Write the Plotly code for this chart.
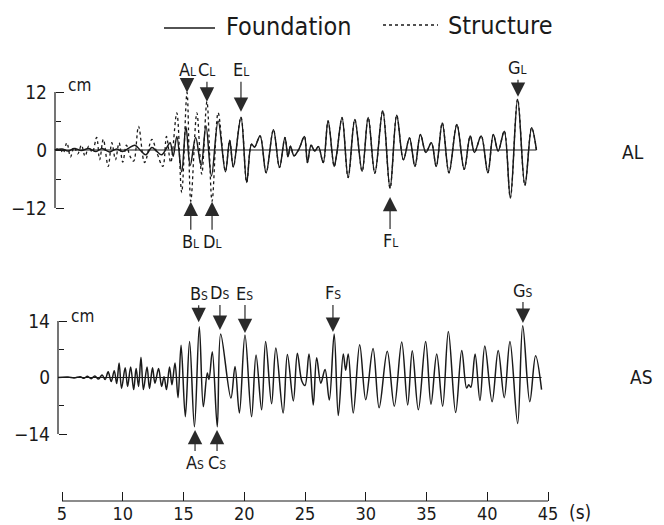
import plotly.graph_objects as go

# ---------------- data ----------------
# Panel AL: foundation record (extrema), seconds / cm
al_found_t = [4.42, 5.0, 5.5, 6.0, 6.6, 7.2, 7.8, 8.3, 8.9, 9.5, 10.0, 10.5, 11.0, 11.5, 11.9,
              12.4, 12.8, 13.2, 13.6, 13.9, 14.15, 14.45, 14.85, 15.2, 15.55, 16.0, 16.45, 16.85,
              17.3, 17.85, 18.45, 18.8, 19.1, 19.73, 20.2, 20.6, 20.85, 21.3, 21.8, 22.4, 22.9,
              23.35, 23.6, 23.8, 24.1, 24.5, 24.95, 25.2, 25.5, 25.8, 26.1, 26.5, 26.9, 27.4,
              27.6, 28.05, 28.55, 29.1, 29.7, 30.2, 30.75, 31.4, 32.0, 32.55, 33.1, 33.6, 34.05,
              34.5, 34.95, 35.4, 35.8, 36.3, 36.85, 37.5, 38.1, 38.6, 38.95, 39.5, 40.05, 40.5,
              40.9, 41.4, 41.9, 42.5, 43.1, 43.65, 44.05]
al_found_v = [0.0, 0.2, -0.2, 0.3, -0.1, 0.3, -0.3, 0.3, -0.4, 0.2, -0.3, 0.4, 1.0, -0.2, -1.0,
              0.5, -0.3, -1.0, 0.4, 1.5, -1.3, 2.8, -4.5, 4.8, -3.2, 2.6, -3.2, 5.0,
              -5.4, 6.0, -4.5, 2.0, -3.5, 6.8, -6.7, 1.2, 0.6, 2.9, -4.7, 4.2, -3.6,
              2.6, -1.4, 0.8, -1.2, 0.2, 2.8, -2.6, 1.0, -0.2, 0.7, -2.6, 6.0, -3.4,
              -1.0, 6.7, -5.7, 6.3, -4.4, 6.7, -4.8, 8.1, -7.9, 7.2, -2.0, 2.5, -3.4,
              3.2, -0.5, 1.5, -3.4, 5.6, -4.7, 5.3, -4.0, 2.9, -0.5, 2.9, -4.7, 3.2,
              -0.2, 3.9, -9.9, 10.5, -7.3, 4.6, 0.0]

# Panel AL: structure record, early part (later part coincides with the foundation)
al_struct_t = [4.42, 4.8, 5.1, 5.4, 5.7, 6.0, 6.3, 6.6, 6.9, 7.2, 7.5, 7.85, 8.1, 8.4, 8.8,
               9.1, 9.4, 9.7, 10.0, 10.3, 10.6, 10.9, 11.3, 11.8, 12.4, 12.8, 13.3, 13.6,
               13.95, 14.45, 14.85, 15.29, 15.6, 16.1, 16.5, 16.93, 17.35, 17.85, 18.45]
al_struct_v = [0.0, 0.3, -0.6, 1.5, -1.4, 0.6, -0.8, 1.0, -1.3, 0.8, -0.5, 2.6, -2.0, 2.2, -3.4,
               1.5, -2.0, 1.5, -2.5, 1.0, -1.3, -2.3, 4.9, -2.6, 2.2, -0.5, -3.4, 2.8,
               -2.6, 7.7, -8.8, 11.9, -10.6, 7.7, -5.0, 10.0, -10.6, 7.7, -4.4]

# Panel AS: record (extrema), seconds / cm
as_t = [4.67, 5.5, 6.0, 6.5, 6.8, 7.1, 7.4, 7.7, 8.0, 8.3, 8.55, 8.8, 9.05, 9.3, 9.5, 9.7, 9.9,
        10.2, 10.4, 10.65, 10.9, 11.1, 11.3, 11.5, 11.7, 12.0, 12.2, 12.45, 12.65, 12.95, 13.2,
        13.4, 13.6, 13.85, 14.05, 14.3, 14.55, 14.8, 15.15, 15.5, 15.9, 16.3, 16.63, 16.96,
        17.1, 17.37, 17.78, 18.06, 18.9, 19.24, 19.6, 20.06, 20.6, 20.97, 21.43, 21.76, 22.25,
        22.6, 23.2, 23.55, 24.04, 24.37, 24.73, 25.0, 25.33, 25.68, 25.96, 26.3, 26.65, 27.0,
        27.4, 27.74, 28.15, 28.35, 28.56, 28.97, 29.5, 30.0, 30.6, 31.1, 31.77, 32.35, 32.96,
        33.45, 33.83, 34.33, 34.93, 35.37, 35.84, 36.33, 36.8, 37.4, 37.9, 38.3, 38.48, 38.65,
        39.0, 39.4, 39.8, 40.4, 40.9, 41.4, 41.87, 42.5, 42.92, 43.5, 43.98, 44.47]
as_v = [0.0, 0.1, -0.1, 0.2, -0.2, 0.3, -0.3, 0.4, -0.4, 0.6, -0.5, 1.4, -1.0, 1.7, -1.5, 3.6, -2.7,
        2.4, -2.2, 2.6, -3.0, 2.2, -2.2, 5.0, -3.0, 2.6, -2.7, 2.4, -1.4, 2.2, -2.2,
        0.2, -3.0, 2.6, -1.8, 3.6, -5.0, 8.0, -9.7, 8.9, -12.2, 12.6, -7.2, 1.1,
        -0.5, 6.4, -12.2, 10.8, -5.1, 2.7, -8.8, 10.5, -9.7, 5.6, -8.0, 8.9, -6.5,
        7.3, -8.8, 5.7, -5.8, 6.0, -0.8, -2.0, 5.8, -6.8, 4.9, -1.4, 2.0, -5.6,
        10.8, -9.4, 5.8, 1.8, 5.8, -8.8, 8.1, -5.5, 7.2, -7.5, 6.5, -7.1, 8.8,
        -6.8, 6.6, -8.0, 8.9, -6.6, 5.8, -7.1, 11.4, -8.7, 6.7, -2.6, -1.8, -2.4,
        5.8, -5.7, 7.8, -6.0, 6.7, -5.0, 8.9, -11.4, 12.8, -6.0, 5.4, -3.0]

x_ticks = [5, 10, 15, 20, 25, 30, 35, 40, 45]
x_tick_labels = ["5", "10", "15", "20", "25", "30", "35", "40", "45"]
al_ticks = [-12, 0, 12]
al_tick_labels = ["\u221212", "0", "12"]
al_minor = [-6, 6]
as_ticks = [-14, 0, 14]
as_tick_labels = ["\u221214", "0", "14"]
as_minor = [-7, 7]

# marked peaks: letter, subscript, time, value, label offset (px, + = below)
al_marks = [("A", "L", 15.29, 11.9, -23), ("C", "L", 16.93, 10.0, -32), ("E", "L", 19.73, 7.9, -42),
            ("G", "L", 42.53, 11.0, -29), ("B", "L", 15.6, -10.7, 40), ("D", "L", 17.35, -10.7, 40),
            ("F", "L", 32.0, -9.7, 44)]
as_marks = [("B", "S", 16.25, 13.7, -29), ("D", "S", 18.0, 11.8, -37), ("E", "S", 20.06, 11.0, -40),
            ("F", "S", 27.3, 11.3, -39), ("G", "S", 42.94, 13.5, -33), ("A", "S", 15.95, -13.0, 33),
            ("C", "S", 17.76, -13.0, 33)]

# ---------------- layout geometry ----------------
W, H = 664, 525
FONT = "Liberation Sans Narrow, DejaVu Sans Condensed, Arial Narrow, Liberation Sans, sans-serif"
INK = "#1a1a1a"

px5, px45 = 62.0, 548.0
pps = (px45 - px5) / 40.0
x_range = [5 - px5 / pps, 5 + (W - px5) / pps]
def t_at(px):
    return 5 + (px - px5) / pps

# AL panel: 0 at y=150, 12 at y=92
al_zero, al_scale = 150.0, (208.0 - 92.0) / 24.0
al_range = [(al_zero - H) / al_scale, al_zero / al_scale]
# AS panel: 0 at y=377.5, 14 at y=321
as_zero, as_scale = 377.5, (434.0 - 321.0) / 28.0
as_range = [(as_zero - H) / as_scale, as_zero / as_scale]

al_axis_px, as_axis_px = 55.0, 58.0
x_axis_py = 501.0

struct_t = al_struct_t + [t for t in al_found_t if t > al_struct_t[-1]]
struct_v = al_struct_v + [v for t, v in zip(al_found_t, al_found_v) if t > al_struct_t[-1]]

fig = go.Figure()
fig.add_trace(go.Scatter(x=struct_t, y=struct_v, mode="lines", yaxis="y",
                         line=dict(color=INK, width=1.3, dash="dot", shape="spline", smoothing=1.0),
                         showlegend=False, hoverinfo="skip"))
fig.add_trace(go.Scatter(x=al_found_t, y=al_found_v, mode="lines", yaxis="y",
                         line=dict(color=INK, width=1.5, shape="spline", smoothing=1.0),
                         showlegend=False, hoverinfo="skip"))
fig.add_trace(go.Scatter(x=as_t, y=as_v, mode="lines", yaxis="y2",
                         line=dict(color=INK, width=1.5, shape="spline", smoothing=1.0),
                         showlegend=False, hoverinfo="skip"))

shapes = []
# axis spines (bracket style) and zero lines
shapes.append(dict(type="line", xref="paper", yref="y", x0=al_axis_px / W, x1=al_axis_px / W,
                   y0=al_ticks[0], y1=al_ticks[-1], line=dict(color=INK, width=1.2)))
shapes.append(dict(type="line", xref="paper", yref="y2", x0=as_axis_px / W, x1=as_axis_px / W,
                   y0=as_ticks[0], y1=as_ticks[-1], line=dict(color=INK, width=1.2)))
shapes.append(dict(type="line", xref="x", yref="y", x0=t_at(al_axis_px), x1=al_found_t[-1],
                   y0=0, y1=0, line=dict(color=INK, width=1.1)))
shapes.append(dict(type="line", xref="x", yref="y2", x0=t_at(as_axis_px), x1=as_t[-1],
                   y0=0, y1=0, line=dict(color=INK, width=1.1)))
shapes.append(dict(type="line", xref="x", yref="paper", x0=x_ticks[0], x1=x_ticks[-1],
                   y0=1 - x_axis_py / H, y1=1 - x_axis_py / H, line=dict(color=INK, width=1.2)))
# legend samples
shapes.append(dict(type="line", xref="paper", yref="paper", x0=164 / W, x1=215 / W,
                   y0=1 - 28 / H, y1=1 - 28 / H, line=dict(color=INK, width=1.3)))
shapes.append(dict(type="line", xref="paper", yref="paper", x0=383 / W, x1=438 / W,
                   y0=1 - 25 / H, y1=1 - 25 / H, line=dict(color=INK, width=1.3, dash="dot")))

ann = []
def label(letter, sub):
    return f"{letter}<span style='font-size:12px'>{sub}</span>"

for letter, sub, t, v, off in al_marks:
    ann.append(dict(x=t, y=v, xref="x", yref="y", text=label(letter, sub), showarrow=True,
                    ax=0, ay=off, arrowhead=2, arrowsize=2.4, arrowwidth=1.2, arrowcolor="#2a2a2a",
                    standoff=0, font=dict(family=FONT, size=18, color=INK)))
for letter, sub, t, v, off in as_marks:
    ann.append(dict(x=t, y=v, xref="x", yref="y2", text=label(letter, sub), showarrow=True,
                    ax=0, ay=off, arrowhead=2, arrowsize=2.4, arrowwidth=1.2, arrowcolor="#2a2a2a",
                    standoff=0, font=dict(family=FONT, size=18, color=INK)))

def ptext(text, px, py, size, xanchor="center"):
    return dict(x=px / W, y=1 - py / H, xref="paper", yref="paper", text=text, showarrow=False,
                xanchor=xanchor, yanchor="middle", font=dict(family=FONT, size=size, color=INK))

ann.append(ptext("Foundation", 224, 26, 25, "left"))
ann.append(ptext("Structure", 446, 25, 25, "left"))
ann.append(ptext("cm", 79, 85, 17))
ann.append(ptext("cm", 82, 316, 17))
ann.append(ptext("AL", 633, 152, 19))
ann.append(ptext("AS", 641, 377, 19))
ann.append(ptext("(s)", 580, 512, 19))

fig.update_layout(
    width=W, height=H, margin=dict(l=0, r=0, t=0, b=0),
    paper_bgcolor="white", plot_bgcolor="white",
    shapes=shapes, annotations=ann, showlegend=False,
    xaxis=dict(domain=[0, 1], range=x_range, anchor="free", position=1 - x_axis_py / H,
               tickmode="array", tickvals=x_ticks, ticktext=x_tick_labels,
               ticks="inside", ticklen=9, tickwidth=1.2, tickcolor=INK,
               showline=False, showgrid=False, zeroline=False,
               tickfont=dict(family=FONT, size=18, color=INK)),
    yaxis=dict(domain=[0, 1], range=al_range, anchor="free", position=al_axis_px / W,
               tickmode="array", tickvals=al_ticks, ticktext=al_tick_labels,
               ticks="inside", ticklen=8, tickwidth=1.2, tickcolor=INK, ticklabelstandoff=8,
               minor=dict(tickmode="array", tickvals=al_minor, ticks="inside", ticklen=5,
                          tickwidth=1.2, tickcolor=INK),
               showline=False, showgrid=False, zeroline=False,
               tickfont=dict(family=FONT, size=19, color=INK)),
    yaxis2=dict(domain=[0, 1], range=as_range, anchor="free", position=as_axis_px / W,
                overlaying="y",
                tickmode="array", tickvals=as_ticks, ticktext=as_tick_labels,
                ticks="inside", ticklen=8, tickwidth=1.2, tickcolor=INK, ticklabelstandoff=8,
                minor=dict(tickmode="array", tickvals=as_minor, ticks="inside", ticklen=5,
                           tickwidth=1.2, tickcolor=INK),
                showline=False, showgrid=False, zeroline=False,
                tickfont=dict(family=FONT, size=19, color=INK)),
)

fig.write_html("out.html")
